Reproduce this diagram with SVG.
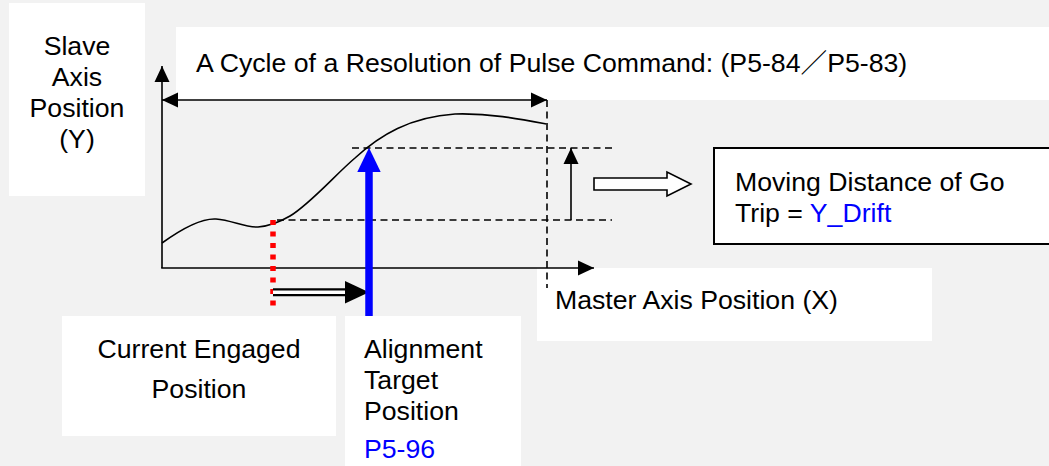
<svg xmlns="http://www.w3.org/2000/svg" width="1049" height="466" viewBox="0 0 1049 466">
<defs>
<style>
.lbl{font-family:"Liberation Sans",Arial,"Noto Sans CJK SC",sans-serif;font-size:26.67px;fill:#000}
.blue{fill:#0000ff}
.box{fill:#ffffff;stroke:none}
.ln{stroke:#000;stroke-width:1.6;fill:none}
.dash{stroke:#000;stroke-width:1.6;fill:none;stroke-dasharray:7 4.5}
</style>
<marker id="ah" viewBox="0 0 16 16" refX="16" refY="8" markerWidth="16" markerHeight="16" markerUnits="userSpaceOnUse" orient="auto-start-reverse">
<path d="M0,0.5 L16,8 L0,15.5 Z" fill="#000"/>
</marker>
</defs>
<rect x="0" y="0" width="1049" height="466" fill="#f2f2f2"/>

<g id="slave-axis-label">
<rect class="box" x="9" y="3" width="136" height="193"/>
<text class="lbl" text-anchor="middle"><tspan x="77" y="55">Slave</tspan><tspan x="77" y="86">Axis</tspan><tspan x="77" y="117">Position</tspan><tspan x="77" y="148">(Y)</tspan></text>
</g>

<g id="cycle-label">
<rect class="box" x="176" y="27" width="873" height="73"/>
<text class="lbl" x="196" y="72">A Cycle of a Resolution of Pulse Command: (P5-84／P5-83)</text>
</g>

<g id="master-axis-label">
<rect class="box" x="537" y="268" width="395" height="73"/>
<text class="lbl" x="555" y="309">Master Axis Position (X)</text>
</g>

<g id="current-engaged-label">
<rect class="box" x="62" y="316" width="274" height="120"/>
<text class="lbl" text-anchor="middle"><tspan x="199" y="358">Current Engaged</tspan><tspan x="199" y="398">Position</tspan></text>
</g>

<g id="alignment-target-label">
<rect class="box" x="345" y="316" width="176" height="160"/>
<text class="lbl"><tspan x="364" y="358">Alignment</tspan><tspan x="364" y="389">Target</tspan><tspan x="364" y="420">Position</tspan><tspan x="364" y="458" class="blue">P5-96</tspan></text>
</g>

<g id="moving-distance-box">
<rect x="714" y="148" width="345" height="96" fill="#ffffff" stroke="#000" stroke-width="2"/>
<text class="lbl"><tspan x="735" y="191">Moving Distance of Go</tspan><tspan x="735" y="222">Trip = <tspan class="blue">Y_Drift</tspan></tspan></text>
</g>

<g id="connectors">
<!-- axes -->
<line class="ln" x1="162" y1="268" x2="162" y2="66" marker-end="url(#ah)"/>
<line class="ln" x1="161.2" y1="268" x2="594" y2="268" marker-end="url(#ah)"/>
<!-- cycle width double arrow -->
<line class="ln" x1="162" y1="100" x2="547" y2="100" marker-start="url(#ah)" marker-end="url(#ah)"/>
<!-- dashed guides -->
<line class="dash" x1="547" y1="100" x2="547" y2="288"/>
<line class="dash" x1="352" y1="148" x2="613" y2="148"/>
<line class="dash" x1="277" y1="220" x2="612" y2="220"/>
<!-- curve -->
<path class="ln" d="M162,243 C180,230 200,218 216,219 C232,220 245,228 258,227 C270,226 278,223 290,216 C310,204 335,175 355,158 C380,135 410,117 455,114 C490,113 520,119 546,124"/>
<!-- drift arrow -->
<line class="ln" x1="571" y1="220" x2="571" y2="148" marker-end="url(#ah)"/>
<!-- hollow block arrow -->
<polygon points="594,178 667,178 667,172 691,184 667,196 667,190 594,190" fill="#ffffff" stroke="#000" stroke-width="1.6"/>
<!-- current engaged red dotted -->
<line x1="273" y1="220" x2="273" y2="310" stroke="#ff0000" stroke-width="5.5" stroke-dasharray="5 6.5"/>
<!-- double line arrow -->
<line x1="273" y1="292.3" x2="346" y2="292.3" stroke="#000" stroke-width="8"/>
<line x1="273" y1="292.3" x2="347" y2="292.3" stroke="#ffffff" stroke-width="3.5"/>
<polygon points="345,281 369,292.3 345,303.6" fill="#000"/>
<!-- blue alignment arrow -->
<line x1="369" y1="316" x2="369" y2="170" stroke="#0000ff" stroke-width="7.5"/>
<polygon points="357.3,172 369,147.7 380.7,172" fill="#0000ff"/>
</g>
</svg>
